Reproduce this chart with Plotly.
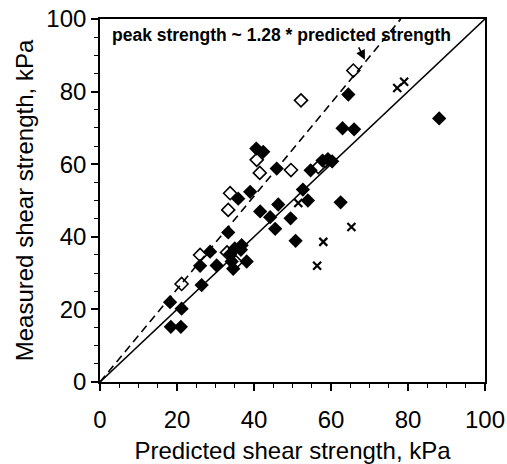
import plotly.graph_objects as go

# Filled diamonds
filled_x = [18.4, 21.0, 18.2, 21.2, 26.4, 26.0, 28.6, 30.3, 33.3, 33.8, 35.0, 36.6, 34.2, 34.6,
            38.1, 36.8, 35.9, 39.0, 40.6, 42.4, 41.6, 44.2, 46.3, 45.5, 45.9, 49.5, 50.8, 52.7,
            54.0, 54.7, 57.8, 59.2, 60.3, 62.5, 63.0, 66.0, 64.5, 88.1]
filled_y = [15.2, 15.2, 22.0, 20.2, 26.7, 32.0, 35.9, 32.1, 41.2, 35.2, 36.8, 36.4, 33.2, 31.2,
            33.2, 37.7, 50.5, 52.4, 64.3, 63.4, 47.0, 45.4, 48.9, 42.2, 58.8, 45.1, 38.9, 53.0,
            50.0, 58.3, 61.0, 61.4, 60.8, 49.5, 69.9, 69.6, 79.2, 72.6]

# Open diamonds
open_x = [21.2, 26.0, 33.0, 35.3, 33.3, 33.8, 40.7, 41.5, 49.6, 52.2, 56.7, 65.8]
open_y = [27.0, 35.0, 35.7, 33.0, 47.4, 52.0, 61.2, 57.6, 58.4, 77.6, 59.2, 85.8]

# Crosses
cross_x = [51.5, 56.4, 58.0, 65.3, 77.2, 79.0, 59.5]
cross_y = [49.3, 32.0, 38.6, 42.7, 81.0, 82.7, 60.2]

# Reference lines
line_x = [0, 100]
unity_y = [0, 100]
peak_ratio = 1.28
peak_x = [0, 100 / peak_ratio]
peak_y = [0, 100]

FONT = "Liberation Sans, Arial, sans-serif"

fig = go.Figure()
fig.add_trace(go.Scatter(x=line_x, y=unity_y, mode="lines",
                         line=dict(color="black", width=1.6), showlegend=False))
fig.add_trace(go.Scatter(x=peak_x, y=peak_y, mode="lines",
                         line=dict(color="black", width=1.6, dash="8px,5px"), showlegend=False))
fig.add_trace(go.Scatter(x=filled_x, y=filled_y, mode="markers",
                         marker=dict(symbol="diamond", size=11, color="black"), showlegend=False))
fig.add_trace(go.Scatter(x=open_x, y=open_y, mode="markers",
                         marker=dict(symbol="diamond-open", size=10, color="black",
                                     line=dict(width=1.6)), showlegend=False))
fig.add_trace(go.Scatter(x=cross_x, y=cross_y, mode="markers",
                         marker=dict(symbol="x-thin-open", size=8, color="black",
                                     line=dict(width=2.2)), showlegend=False))

fig.add_annotation(x=2.6, y=95.6, xref="x", yref="y", xanchor="left", yanchor="middle",
                   text="<b>peak strength ~ 1.28 * predicted strength</b>", showarrow=False,
                   font=dict(family=FONT, size=17.5, color="black"))
fig.add_annotation(x=68.8, y=88.8, ax=67.0, ay=92.6, xref="x", yref="y", axref="x", ayref="y",
                   text="", showarrow=True, arrowhead=2, arrowsize=1.2, arrowwidth=1.6,
                   arrowcolor="black")

axis_common = dict(range=[0, 100], dtick=20, tick0=0, ticks="outside", ticklen=7, tickwidth=1.5,
                   tickcolor="black", showline=True, linecolor="black", linewidth=1.6,
                   mirror=True, showgrid=False, zeroline=False, automargin=False,
                   tickfont=dict(family=FONT, size=24, color="black"),
                   minor=dict(dtick=5, ticks="outside", ticklen=4, tickwidth=1.2,
                              tickcolor="black", showgrid=False))

fig.update_xaxes(**axis_common, ticklabelstandoff=8,
                 title=dict(text="Predicted shear strength, kPa", standoff=12,
                            font=dict(family=FONT, size=24, color="black")))
fig.update_yaxes(**axis_common,
                 title=dict(text="Measured shear strength, kPa", standoff=6,
                            font=dict(family=FONT, size=24, color="black")))

fig.update_layout(width=507, height=464, margin=dict(l=100, r=22, t=19, b=82),
                  plot_bgcolor="white", paper_bgcolor="white")

fig.write_html("out.html")
